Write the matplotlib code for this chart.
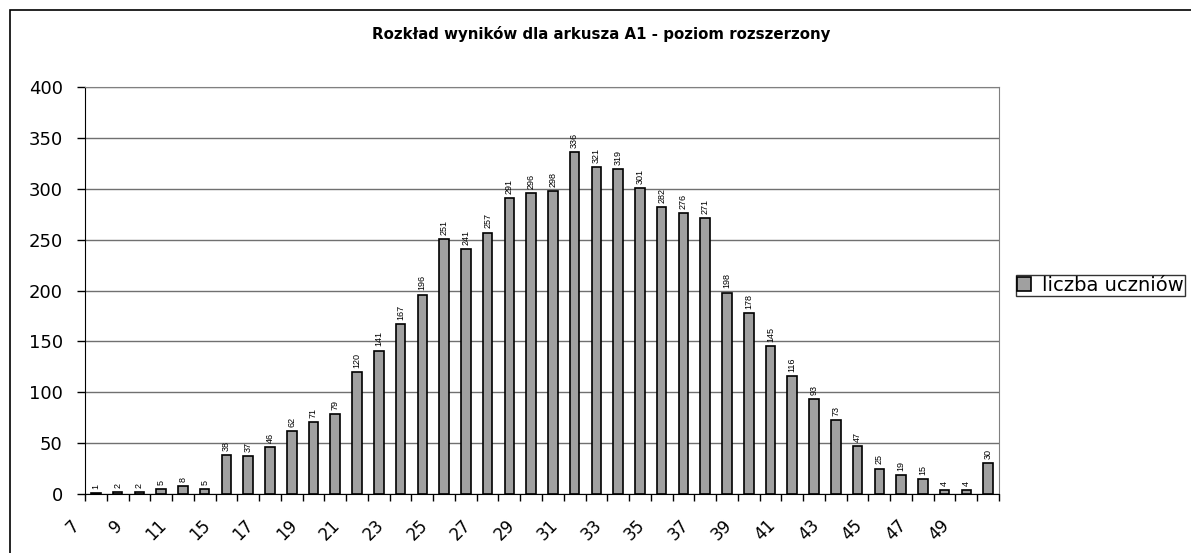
import matplotlib
matplotlib.use("Agg")
import matplotlib.pyplot as plt
import matplotlib.transforms as mtransforms
from matplotlib.patches import Rectangle

plt.rcParams['font.family'] = ['DejaVu Sans']

# dane
wyniki = ['7', '8', '9', '10', '11', '12', '15', '16', '17', '18', '19', '20', '21', '22',
          '23', '24', '25', '26', '27', '28', '29', '30', '31', '32', '33', '34', '35',
          '36', '37', '38', '39', '40', '41', '42', '43', '44', '45', '46', '47', '48',
          '49', '50']
liczba_uczniow = [1, 2, 2, 5, 8, 5, 38, 37, 46, 62, 71, 79, 120, 141, 167, 196, 251, 241,
                  257, 291, 296, 298, 336, 321, 319, 301, 282, 276, 271, 198, 178, 145, 116,
                  93, 73, 47, 25, 19, 15, 4, 4, 30]
y_ticks = [0, 50, 100, 150, 200, 250, 300, 350, 400]

W, H = 1191, 553
fig = plt.figure(figsize=(W / 100, H / 100), dpi=100)

# ramka wykresu
fig.patches.append(Rectangle((10 / W, -0.1), 1.2, (H - 10) / H + 0.1, transform=fig.transFigure,
                             fill=False, edgecolor='black', linewidth=1.2))

ax = fig.add_axes([85 / W, (H - 494) / H, (999 - 85) / W, (494 - 87) / H])

x = list(range(len(wyniki)))
bars = ax.bar(x, liczba_uczniow, width=0.44, color='#a0a0a0', edgecolor='black',
              linewidth=1.2, zorder=3, label='liczba uczniów')

for xi, v in zip(x, liczba_uczniow):
    ax.text(xi, v + 4, str(v), rotation=90, ha='center', va='bottom', fontsize=6.5,
            family='Liberation Sans', zorder=4)

ax.set_xlim(-0.5, len(wyniki) - 0.5)
ax.set_ylim(0, 400)
ax.set_yticks(y_ticks)
ax.tick_params(axis='y', direction='out', length=6, width=1, labelsize=13, pad=10)
ax.yaxis.grid(True, color='#707070', linewidth=1, zorder=0)

# ticki kategorii
ax.set_xticks([i - 0.5 for i in range(len(wyniki) + 1)], minor=True)
ax.tick_params(axis='x', which='minor', direction='out', length=5, width=1)
ax.set_xticks(x[::2])
ax.set_xticklabels(wyniki[::2], rotation=45, ha='right', va='top', fontsize=12)
ax.tick_params(axis='x', which='major', length=0, pad=16)
offset = mtransforms.ScaledTranslation(-13 / 100, 0, fig.dpi_scale_trans)
for lab in ax.get_xticklabels():
    lab.set_transform(lab.get_transform() + offset)

for s in ['top', 'right']:
    ax.spines[s].set_color('#808080')
for s in ['left', 'bottom']:
    ax.spines[s].set_color('black')

fig.text(0.505, (H - 34) / H, 'Rozkład wyników dla arkusza A1 - poziom rozszerzony',
         ha='center', va='center', fontsize=10.8, fontweight='bold')

leg = fig.legend(handles=[bars], labels=['liczba uczniów'], loc='upper left',
                 bbox_to_anchor=(1016 / W, (H - 275) / H), fontsize=14, frameon=True,
                 fancybox=False, edgecolor='black', handlelength=0.7, handleheight=0.7,
                 handletextpad=0.6, borderpad=0.05, borderaxespad=0)
leg.get_frame().set_linewidth(1)

fig.savefig('out.png', dpi=100)
